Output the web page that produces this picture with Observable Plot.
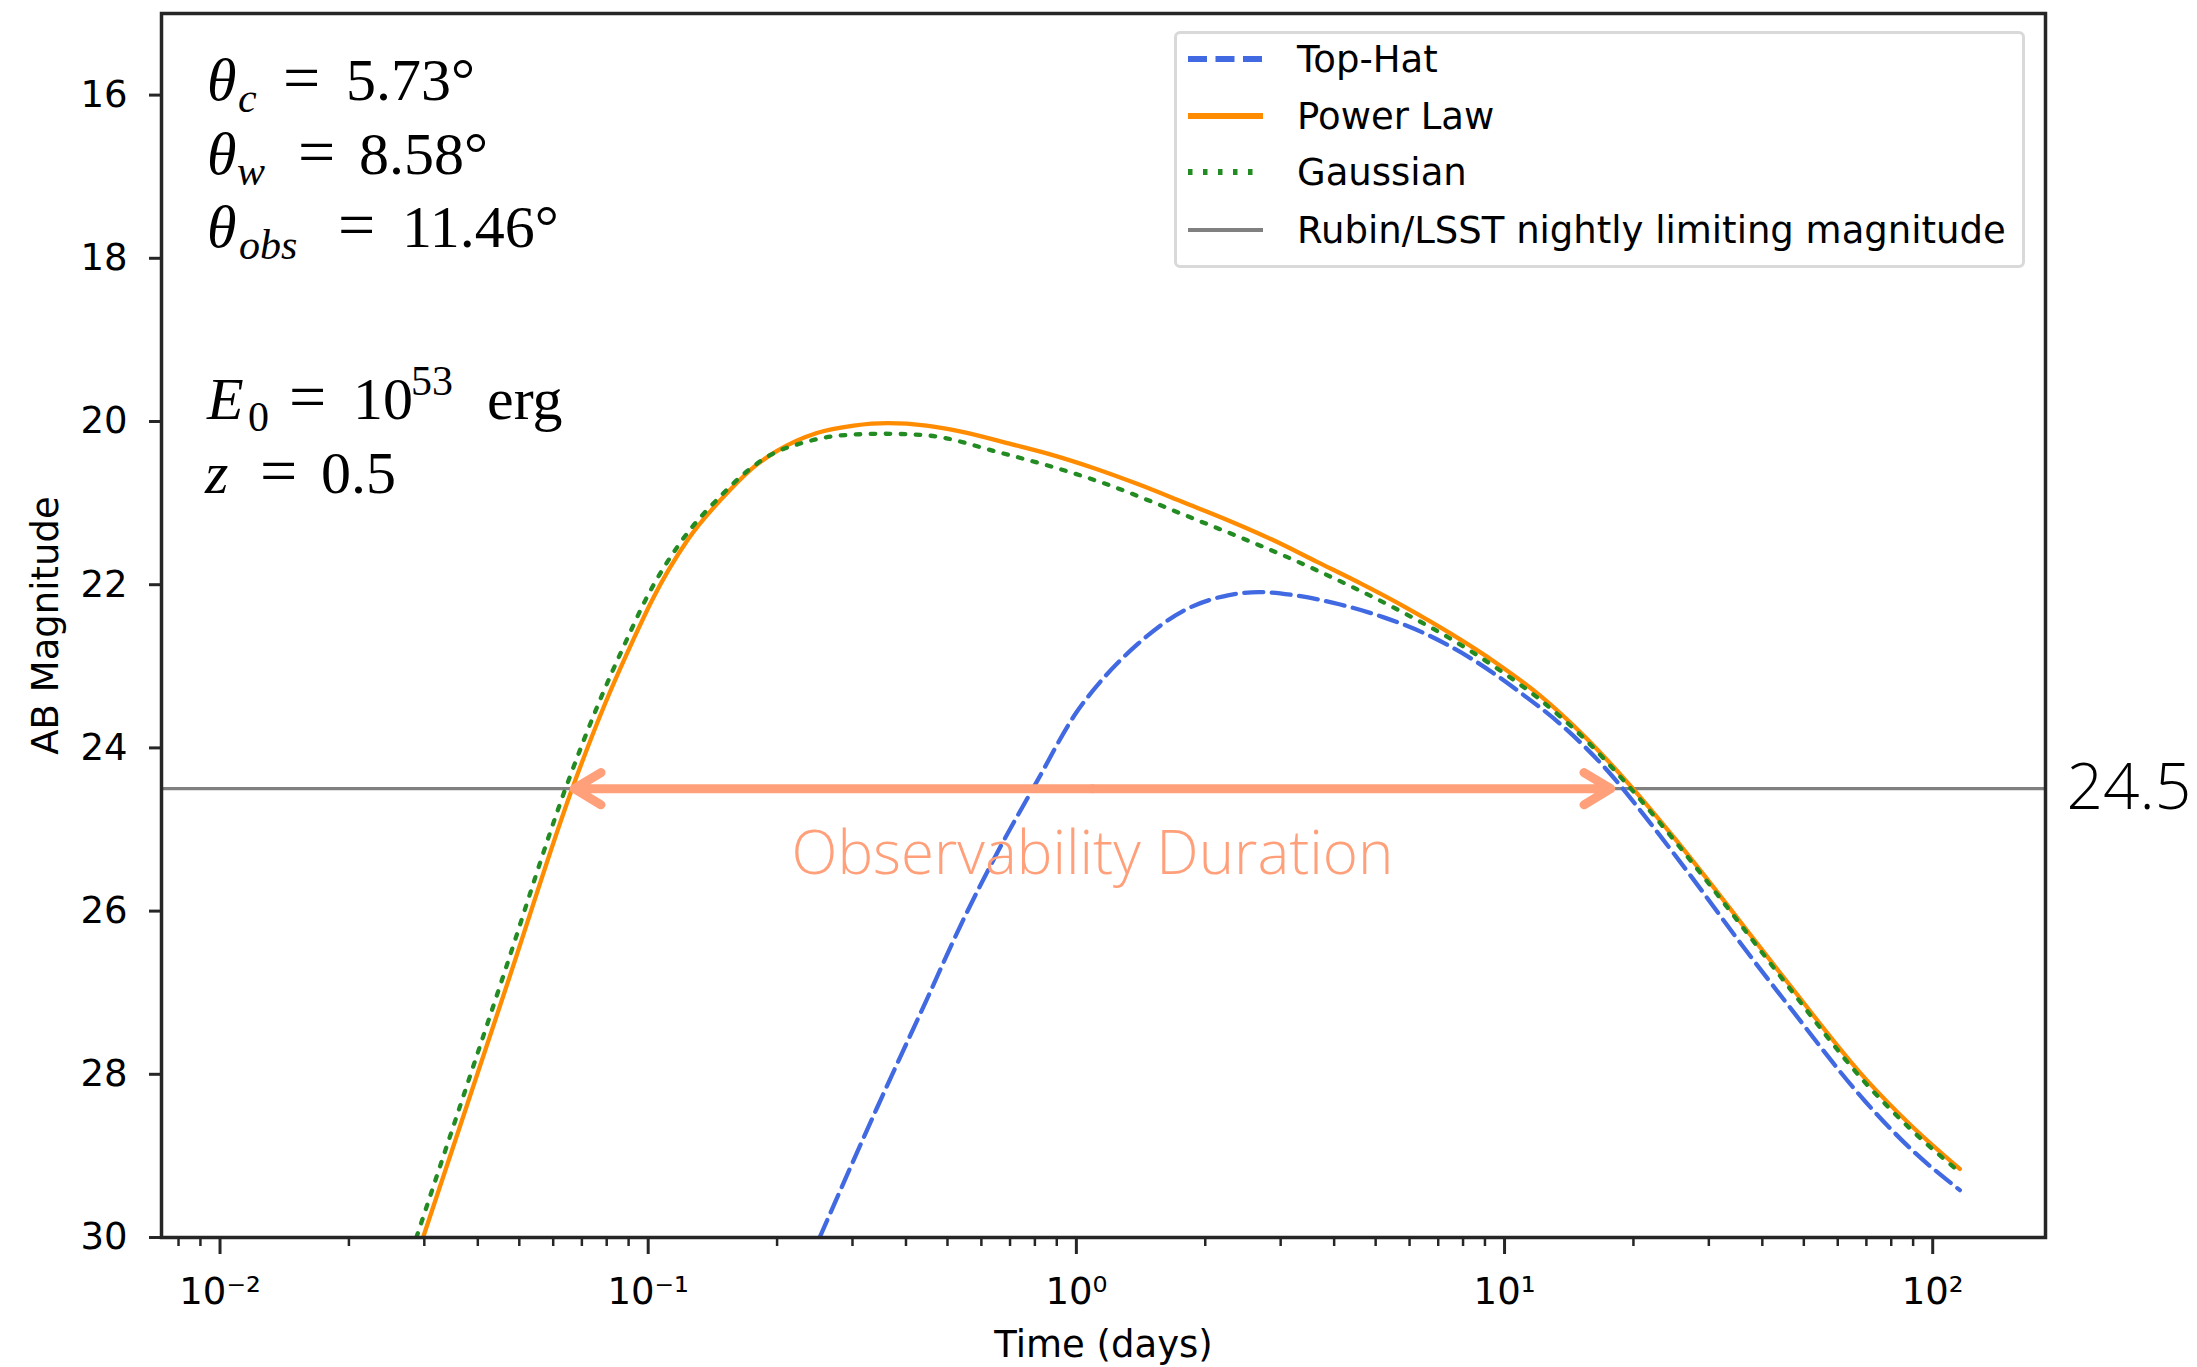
<!DOCTYPE html>
<html>
<head>
<meta charset="utf-8">
<script src="https://cdn.jsdelivr.net/npm/d3@7"></script>
<script src="https://cdn.jsdelivr.net/npm/@observablehq/plot@0.6"></script>
<style>
html, body { margin: 0; padding: 0; background: #fff; }
#wrap { position: relative; width: 2197px; height: 1367px; overflow: hidden; }
#legend { position: absolute; left: 1174px; top: 31px; width: 845px; height: 231px;
  border: 3px solid #d9d9d9; border-radius: 6px; background: rgba(255,255,255,0.8);
  font-family: "DejaVu Sans"; font-size: 37px; color: #000; }
.row { position: absolute; left: 0; height: 0; width: 100%; }
.row svg { position: absolute; left: 0; top: -10px; overflow: visible; }
.row span { position: absolute; left: 120px; top: 0; transform: translateY(-50%); white-space: nowrap; line-height: 1; }
</style>
</head>
<body>
<div id="wrap"></div>
<script>
// ---------------- data ----------------
const seriesNames = ["Top-Hat", "Power Law", "Gaussian"];

// Top-Hat jet: time (days), AB magnitude
const topHatT   = [0.2514, 0.3424, 0.4467, 0.5439, 0.6511, 0.8072, 0.9989, 1.155, 1.396, 1.778, 2.259, 2.671, 3.236, 4.111, 5.224, 6.648, 8.446, 10.74, 13.65, 17.34, 22.03, 28.05, 35.65, 46.24, 69.50, 89.13, 115.7];
const topHatMag = [30.00, 28.41, 27.09, 26.11, 25.30, 24.42, 23.57, 23.15, 22.72, 22.32, 22.13, 22.09, 22.13, 22.24, 22.40, 22.62, 22.92, 23.30, 23.73, 24.27, 24.94, 25.66, 26.40, 27.17, 28.33, 28.92, 29.42];

// Power-law jet
const powerLawT   = [0.02980, 0.04750, 0.06676, 0.07943, 0.09220, 0.1021, 0.1237, 0.1552, 0.1772, 0.2000, 0.2477, 0.3020, 0.3631, 0.4467, 0.5346, 0.7079, 0.8650, 1.096, 1.396, 1.778, 2.259, 2.871, 3.648, 4.634, 5.888, 7.490, 9.506, 12.11, 15.38, 19.50, 24.89, 30.69, 37.24, 46.24, 69.50, 89.13, 115.7];
const powerLawMag = [30.00, 26.80, 24.47, 23.45, 22.68, 22.19, 21.45, 20.84, 20.55, 20.36, 20.14, 20.05, 20.02, 20.05, 20.12, 20.28, 20.40, 20.57, 20.77, 20.99, 21.21, 21.45, 21.72, 21.99, 22.28, 22.60, 22.95, 23.36, 23.86, 24.44, 25.10, 25.70, 26.27, 26.90, 28.05, 28.63, 29.16];

// Gaussian jet
const gaussianT   = [0.02875, 0.04584, 0.06440, 0.07665, 0.08900, 0.09850, 0.1194, 0.1498, 0.1710, 0.1930, 0.2265, 0.2512, 0.2818, 0.3548, 0.4467, 0.6622, 1.135, 1.778, 3.631, 5.888, 7.413, 9.506, 12.11, 15.38, 19.50, 24.89, 30.69, 37.24, 46.24, 69.50, 89.13, 115.7];
const gaussianMag = [30.00, 26.80, 24.47, 23.45, 22.68, 22.19, 21.47, 20.88, 20.60, 20.41, 20.27, 20.21, 20.17, 20.15, 20.17, 20.38, 20.74, 21.14, 21.82, 22.36, 22.65, 23.01, 23.41, 23.89, 24.47, 25.13, 25.73, 26.30, 26.94, 28.10, 28.68, 29.20];

// Rubin/LSST nightly limiting magnitude
const limitMag = 24.5;
// Observability window (days) where the arrow ends
const arrowStartT = 0.0672;
const arrowEndT = 17.7;

// axes
const xDomain = [0.0073, 183.4];
const yDomain = [15, 30];
const yTicks = [16, 18, 20, 22, 24, 26, 28, 30];
const xMajorTicks = [0.01, 0.1, 1, 10, 100];
const xMajorLabels = ["10\u207B\u00B2", "10\u207B\u00B9", "10\u2070", "10\u00B9", "10\u00B2"];
const xMinorTicks = [0.008, 0.009, 0.02, 0.03, 0.04, 0.05, 0.06, 0.07, 0.08, 0.09,
  0.2, 0.3, 0.4, 0.5, 0.6, 0.7, 0.8, 0.9, 2, 3, 4, 5, 6, 7, 8, 9,
  20, 30, 40, 50, 60, 70, 80, 90];

const xLabel = "Time (days)";
const yLabel = "AB Magnitude";
const annotation = "Observability Duration";

// ---------------- build ----------------
const toRows = (T, M) => T.map((t, i) => ({t, mag: M[i]}));
const topHat = toRows(topHatT, topHatMag);
const powerLaw = toRows(powerLawT, powerLawMag);
const gaussian = toRows(gaussianT, gaussianMag);

const colors = {"Top-Hat": "#4169E1", "Power Law": "#FF8C00", "Gaussian": "#228B22"};
const dashes = {"Top-Hat": "19,8.5", "Power Law": null, "Gaussian": "4.5,10.5"};
const limitColor = "#808080";
const salmon = "#FFA07A";
const axisColor = "#262626";

const midT = Math.sqrt(arrowStartT * arrowEndT);
const arrowSegs = [{from: midT, to: arrowStartT, y: limitMag}, {from: midT, to: arrowEndT, y: limitMag}];

const lineOpts = (name) => ({x: "t", y: "mag", stroke: colors[name], strokeWidth: 4.3,
  strokeDasharray: dashes[name] || undefined, curve: "monotone-x", clip: true});

const plot = Plot.plot({
  width: 2197,
  height: 1367,
  marginLeft: 161,
  marginRight: 152,
  marginTop: 13,
  marginBottom: 130,
  style: {fontFamily: "DejaVu Sans", fontSize: "37px", background: "white", color: "black", overflow: "visible"},
  x: {type: "log", domain: xDomain},
  y: {domain: yDomain, reverse: true},
  marks: [
    Plot.ruleY([limitMag], {stroke: limitColor, strokeWidth: 3.3}),
    Plot.line(topHat, lineOpts("Top-Hat")),
    Plot.line(powerLaw, lineOpts("Power Law")),
    Plot.line(gaussian, lineOpts("Gaussian")),
    Plot.arrow(arrowSegs, {x1: "from", x2: "to", y1: "y", y2: "y", stroke: salmon, strokeWidth: 9,
      headLength: 5.2, headAngle: 62, strokeLinecap: "round", strokeLinejoin: "round"}),
    Plot.text([annotation], {x: () => midT, y: () => limitMag, text: d => d, dy: 66, lineAnchor: "middle",
      fontSize: 60, fontFamily: "Open Sans", fontWeight: 300, fill: salmon}),
    Plot.text([limitMag], {y: d => d, text: d => String(d), frameAnchor: "right", dx: 21, textAnchor: "start",
      lineAnchor: "middle", fontSize: 64, fontFamily: "Open Sans", fontWeight: 300, fill: "black"}),
    Plot.frame({stroke: axisColor, strokeWidth: 3.5}),
    Plot.axisY({ticks: yTicks, tickSize: 12, tickPadding: 22, label: null, stroke: axisColor, strokeWidth: 3, fill: "black"}),
    Plot.axisX({ticks: xMinorTicks, tickSize: 9, tickFormat: () => "", label: null, stroke: axisColor, strokeWidth: 2.5}),
    Plot.axisX({ticks: xMajorTicks, tickSize: 17, tickPadding: 23, label: null, stroke: axisColor, strokeWidth: 3, fill: "black",
      tickFormat: d => xMajorLabels[xMajorTicks.indexOf(d)]}),
    Plot.text([xLabel], {text: d => d, frameAnchor: "bottom", dy: 108, lineAnchor: "middle", fontSize: 37, fill: "black"}),
    Plot.text([yLabel], {text: d => d, frameAnchor: "left", dx: -115, rotate: -90, textAnchor: "middle",
      lineAnchor: "middle", fontSize: 37, fill: "black"})
  ]
});

// math annotation block (top-left), serif like LaTeX
const svg = d3.select(plot);
const mg = svg.append("g").attr("font-family", "Liberation Serif").attr("fill", "black").attr("text-anchor", "start");
const pieces = [
  // [text, x, y, size, italic]
  ["\u03B8", 207, 100, 60, true], ["c", 238, 112, 42, true], ["=", 283, 100, 66, false], ["5.73\u00B0", 346, 100, 60, false],
  ["\u03B8", 207, 174, 60, true], ["w", 237, 185, 42, true], ["=", 298, 174, 66, false], ["8.58\u00B0", 359, 174, 60, false],
  ["\u03B8", 207, 247, 60, true], ["obs", 239, 259, 42, true], ["=", 338, 247, 66, false], ["11.46\u00B0", 402, 247, 60, false],
  ["E", 207, 419, 60, true], ["0", 248, 431, 42, false], ["=", 289, 419, 66, false], ["10", 353, 419, 60, false], ["53", 411, 395, 42, false], ["erg", 487, 419, 60, false],
  ["z", 205, 493, 60, true], ["=", 260, 493, 66, false], ["0.5", 321, 493, 60, false]
];
for (const [t, x, y, s, it] of pieces) {
  mg.append("text").attr("x", x).attr("y", y).attr("font-size", s)
    .attr("font-style", it ? "italic" : "normal").text(t);
}

const wrap = document.getElementById("wrap");
wrap.appendChild(plot);

// legend
const legendItems = [
  {name: seriesNames[0], color: colors["Top-Hat"], dash: dashes["Top-Hat"], y: 25},
  {name: seriesNames[1], color: colors["Power Law"], dash: null, y: 82},
  {name: seriesNames[2], color: colors["Gaussian"], dash: dashes["Gaussian"], y: 138},
  {name: "Rubin/LSST nightly limiting magnitude", color: limitColor, dash: null, y: 196, w: 4}
];
const lg = document.createElement("div");
lg.id = "legend";
for (const it of legendItems) {
  const row = document.createElement("div");
  row.className = "row";
  row.style.top = it.y + "px";
  row.innerHTML = `<svg width="100" height="20"><line x1="11" x2="86" y1="10" y2="10" stroke="${it.color}" stroke-width="${it.w || 6}" ${it.dash ? `stroke-dasharray="${it.dash}"` : ""}/></svg><span>${it.name}</span>`;
  lg.appendChild(row);
}
wrap.appendChild(lg);
</script>
</body>
</html>
